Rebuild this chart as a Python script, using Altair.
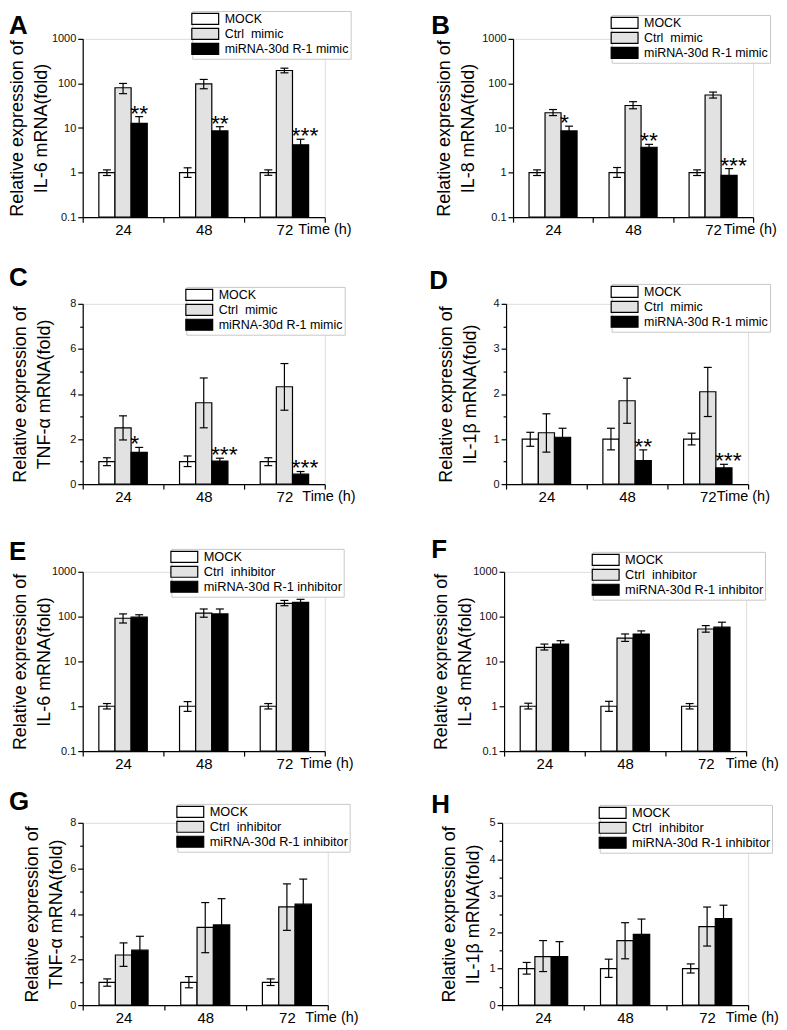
import altair as alt
import pandas as pd

FONT = "Liberation Sans"
TIMES = ["24", "48", "72"]
MIMIC = ["MOCK", "Ctrl\u00a0 mimic", "miRNA-30d R-1 mimic"]
INHIB = ["MOCK", "Ctrl\u00a0 inhibitor", "miRNA-30d R-1 inhibitor"]
FILLS = ["#ffffff", "#e2e2e2", "#000000"]
LOG_TICKS = [0.1, 1, 10, 100, 1000]
TICKS_0_8 = [0, 1, 2, 3, 4, 5, 6, 7, 8]
TICKS_0_4 = [0, 0.5, 1, 1.5, 2, 2.5, 3, 3.5, 4]
TICKS_0_5 = [0, 0.5, 1, 1.5, 2, 2.5, 3, 3.5, 4, 4.5, 5]

# ---- A: IL-6, mimic (log) ----
A_mock = [1, 1, 1]
A_mock_lo = [0.86, 0.78, 0.87]
A_mock_hi = [1.15, 1.28, 1.15]
A_ctrl = [80, 98, 195]
A_ctrl_lo = [59, 76, 173]
A_ctrl_hi = [100, 123, 220]
A_mir = [12.7, 8.6, 4.2]
A_mir_lo = [9.5, 6.8, 3.3]
A_mir_hi = [18, 10.7, 5.6]
A_stars = ["**", "**", "***"]

# ---- B: IL-8, mimic (log) ----
B_mock = [1, 1, 1]
B_mock_lo = [0.86, 0.78, 0.86]
B_mock_hi = [1.15, 1.3, 1.15]
B_ctrl = [22, 32, 55]
B_ctrl_lo = [19, 27, 47]
B_ctrl_hi = [26, 39, 64]
B_mir = [8.6, 3.7, 0.87]
B_mir_lo = [6.5, 3.2, 0.6]
B_mir_hi = [11, 4.3, 1.23]
B_stars = ["\u00a0*", "**", "***"]

# ---- C: TNF-a, mimic ----
C_mock = [1, 1, 1]
C_mock_lo = [0.82, 0.78, 0.82]
C_mock_hi = [1.17, 1.25, 1.17]
C_ctrl = [2.50, 3.61, 4.32]
C_ctrl_lo = [1.96, 2.50, 3.28]
C_ctrl_hi = [3.03, 4.71, 5.35]
C_mir = [1.41, 1.02, 0.44]
C_mir_lo = [1.19, 0.89, 0.32]
C_mir_hi = [1.63, 1.15, 0.56]
C_stars = ["\u00a0*", "***", "***"]

# ---- D: IL-1b, mimic ----
D_mock = [1, 1, 1]
D_mock_lo = [0.84, 0.76, 0.87]
D_mock_hi = [1.15, 1.24, 1.13]
D_ctrl = [1.14, 1.85, 2.05]
D_ctrl_lo = [0.71, 1.35, 1.50]
D_ctrl_hi = [1.56, 2.35, 2.59]
D_mir = [1.04, 0.52, 0.36]
D_mir_lo = [0.83, 0.28, 0.28]
D_mir_hi = [1.24, 0.76, 0.44]
D_stars = ["", "**", "***"]

# ---- E: IL-6, inhibitor (log) ----
E_mock = [1, 1, 1]
E_mock_lo = [0.87, 0.77, 0.87]
E_mock_hi = [1.15, 1.27, 1.15]
E_ctrl = [92, 120, 198]
E_ctrl_lo = [72, 97, 175]
E_ctrl_hi = [115, 148, 230]
E_mir = [97, 115, 208]
E_mir_lo = [84, 89, 180]
E_mir_hi = [110, 148, 243]

# ---- F: IL-8, inhibitor (log) ----
F_mock = [1, 1, 1]
F_mock_lo = [0.87, 0.77, 0.87]
F_mock_hi = [1.17, 1.29, 1.15]
F_ctrl = [20.6, 33, 53]
F_ctrl_lo = [18, 28, 45]
F_ctrl_hi = [24.4, 41, 63]
F_mir = [24.4, 41, 58]
F_mir_lo = [21, 35, 45]
F_mir_hi = [29, 48, 75]

# ---- G: TNF-a, inhibitor ----
G_mock = [1, 1, 1]
G_mock_lo = [0.83, 0.76, 0.86]
G_mock_hi = [1.15, 1.25, 1.15]
G_ctrl = [2.20, 3.41, 4.31]
G_ctrl_lo = [1.70, 2.30, 3.28]
G_ctrl_hi = [2.73, 4.50, 5.32]
G_mir = [2.41, 3.52, 4.43]
G_mir_lo = [1.8, 2.4, 3.3]
G_mir_hi = [3.02, 4.67, 5.53]

# ---- H: IL-1b, inhibitor ----
H_mock = [1, 1, 1]
H_mock_lo = [0.85, 0.76, 0.88]
H_mock_hi = [1.17, 1.26, 1.13]
H_ctrl = [1.33, 1.77, 2.15]
H_ctrl_lo = [0.92, 1.27, 1.62]
H_ctrl_hi = [1.77, 2.26, 2.69]
H_mir = [1.33, 1.94, 2.37]
H_mir_lo = [0.92, 1.52, 2.0]
H_mir_hi = [1.74, 2.36, 2.74]

NO_STARS = ["", "", ""]

LEGEND_SYMBOL = "M-2.45,-1H2.45V1H-2.45Z"


def panel(letter, groups, series, stars, log, ydom, yticks, major, ylabel,
          w, h, lx, ly, lfs, tdx, tdy, ytx, ttx):
    rows = []
    for gi, g in enumerate(groups):
        vals, lo, hi = series[gi]
        for ti, t in enumerate(TIMES):
            rows.append(dict(time=t, group=g, value=vals[ti], lo=lo[ti], hi=hi[ti],
                             star=(stars[ti] if gi == 2 else ""), base=ydom[0]))
    df = pd.DataFrame(rows)

    if log:
        yscale = alt.Scale(type="log", domain=ydom)
        tick_size = 5
        label_expr = "datum.label"
    else:
        yscale = alt.Scale(domain=ydom, nice=False, zero=True)
        test = f"datum.value % {major} == 0"
        tick_size = {"condition": {"test": test, "value": 5}, "value": 3}
        label_expr = f"{test} ? datum.label : ''"

    yaxis = alt.Axis(values=yticks, format="~g", labelExpr=label_expr, grid=False,
                     tickSize=tick_size, tickWidth=1.2,
                     tickColor="black", domainColor="black", domainWidth=1.2,
                     labelFont=FONT, labelFontSize=11, labelColor="#111111", labelPadding=2,
                     title=["Relative expression of", ylabel], titleFont=FONT,
                     titleFontSize=18, titleFontWeight="normal", titleColor="black",
                     titleX=ytx, titleLineHeight=24, titleBaseline="bottom")
    xaxis = alt.Axis(tickBand="extent", labelAngle=0, labelFont=FONT, labelFontSize=15,
                     labelColor="black", labelPadding=0, tickSize=5, tickWidth=1.2,
                     tickColor="black", domainColor="black", domainWidth=1.2, grid=False,
                     title="Time (h)", titleFont=FONT, titleFontSize=14.5,
                     titleFontWeight="normal", titleColor="black", titleX=ttx, titleY=5,
                     titleAlign="left", titleBaseline="top")

    x = alt.X("time:N", sort=TIMES, scale=alt.Scale(paddingInner=0, paddingOuter=0), axis=xaxis)
    xo = alt.XOffset("group:N", sort=groups, scale=alt.Scale(paddingInner=0, paddingOuter=1.0))

    def Y(field):
        return alt.Y(field, type="quantitative", scale=yscale, axis=yaxis)

    base = alt.Chart(df)
    bars = base.mark_bar(stroke="black", strokeWidth=1.2).encode(
        x=x, xOffset=xo, y=Y("value"), y2="base:Q",
        fill=alt.Fill("group:N", sort=groups,
                      scale=alt.Scale(domain=groups, range=FILLS),
                      legend=alt.Legend(title=None, orient="none", legendX=lx, legendY=ly,
                                        direction="vertical", symbolType=LEGEND_SYMBOL,
                                        symbolSize=121, symbolStrokeColor="black",
                                        symbolStrokeWidth=1.2, symbolOffset=5, labelOffset=13,
                                        labelFont=FONT, labelFontSize=lfs, labelColor="black",
                                        labelLimit=300, rowPadding=-2, padding=1.5,
                                        strokeColor="#c8c8c8", fillColor="white",
                                        symbolOpacity=1)))
    err = base.mark_rule(color="black", strokeWidth=1.2).encode(
        x=x, xOffset=xo, y=Y("lo"), y2="hi:Q")
    cap_hi = base.mark_tick(color="black", thickness=1.2, size=8, opacity=1).encode(
        x=x, xOffset=xo, y=Y("hi"))
    cap_lo = base.mark_tick(color="black", thickness=1.2, size=8, opacity=1).encode(
        x=x, xOffset=xo, y=Y("lo"))
    txt = base.mark_text(align="left", baseline="alphabetic", dx=-9, dy=4, fontSize=23,
                         font=FONT, color="black").encode(
        x=x, xOffset=xo, y=Y("hi"), text="star:N")

    return alt.layer(bars, err, cap_hi, cap_lo, txt).properties(
        width=w, height=h,
        title=alt.TitleParams(text=letter, anchor="start", frame="group", dx=tdx, dy=tdy,
                              offset=0, font=FONT, fontSize=26, fontWeight="bold",
                              color="black", baseline="alphabetic"))


pA = panel("A", MIMIC, [(A_mock, A_mock_lo, A_mock_hi), (A_ctrl, A_ctrl_lo, A_ctrl_hi),
                        (A_mir, A_mir_lo, A_mir_hi)], A_stars, True, [0.1, 1000], LOG_TICKS, 1,
           "IL-6 mRNA(fold)", 243, 179, 110, -28, 12.5, -74, 50, -56, 216)
pB = panel("B", MIMIC, [(B_mock, B_mock_lo, B_mock_hi), (B_ctrl, B_ctrl_lo, B_ctrl_hi),
                        (B_mir, B_mir_lo, B_mir_hi)], B_stars, True, [0.1, 1000], LOG_TICKS, 1,
           "IL-8 mRNA(fold)", 241, 179, 99, -24, 12.5, -82, 46, -60, 211)
pC = panel("C", MIMIC, [(C_mock, C_mock_lo, C_mock_hi), (C_ctrl, C_ctrl_lo, C_ctrl_hi),
                        (C_mir, C_mir_lo, C_mir_hi)], C_stars, False, [0, 8], TICKS_0_8, 2,
           "TNF-\u03b1 mRNA(fold)", 243, 181, 104, -17, 12.5, -74, 26, -53, 220)
pD = panel("D", MIMIC, [(D_mock, D_mock_lo, D_mock_hi), (D_ctrl, D_ctrl_lo, D_ctrl_hi),
                        (D_mir, D_mir_lo, D_mir_hi)], D_stars, False, [0, 4], TICKS_0_4, 1,
           "IL-1\u03b2 mRNA(fold)", 243, 181, 106, -20, 12.5, -77, 32, -51, 211)
pE = panel("E", INHIB, [(E_mock, E_mock_lo, E_mock_hi), (E_ctrl, E_ctrl_lo, E_ctrl_hi),
                        (E_mir, E_mir_lo, E_mir_hi)], NO_STARS, True, [0.1, 1000], LOG_TICKS, 1,
           "IL-6 mRNA(fold)", 243, 180, 89, -23, 12.8, -74, 38, -53, 218)
pF = panel("F", INHIB, [(F_mock, F_mock_lo, F_mock_hi), (F_ctrl, F_ctrl_lo, F_ctrl_hi),
                        (F_mir, F_mir_lo, F_mir_hi)], NO_STARS, True, [0.1, 1000], LOG_TICKS, 1,
           "IL-8 mRNA(fold)", 243, 180, 89, -20, 12.8, -73, 33, -54, 222)
pG = panel("G", INHIB, [(G_mock, G_mock_lo, G_mock_hi), (G_ctrl, G_ctrl_lo, G_ctrl_hi),
                        (G_mir, G_mir_lo, G_mir_hi)], NO_STARS, False, [0, 8], TICKS_0_8, 2,
           "TNF-\u03b1 mRNA(fold)", 246, 183, 95, -19, 12.8, -74, 33, -41, 223)
pH = panel("H", INHIB, [(H_mock, H_mock_lo, H_mock_hi), (H_ctrl, H_ctrl_lo, H_ctrl_hi),
                        (H_mir, H_mir_lo, H_mir_hi)], NO_STARS, False, [0, 5], TICKS_0_5, 1,
           "IL-1\u03b2 mRNA(fold)", 247, 183, 98, -18, 12.8, -71, 35, -44, 224)


def indep(c):
    return c.resolve_scale(x="independent", y="independent", fill="independent",
                           xOffset="independent").resolve_legend(fill="independent") \
            .resolve_axis(x="independent", y="independent")


row1 = indep(alt.hconcat(pA, pB, spacing=189, bounds="flush"))
row2 = indep(alt.hconcat(pC, pD, spacing=182, bounds="flush"))
row3 = indep(alt.hconcat(pE, pF, spacing=180, bounds="flush"))
row4 = indep(alt.hconcat(pG, pH, spacing=175, bounds="flush"))

inner3 = indep(alt.vconcat(row3, row4, spacing=17))
inner2 = indep(alt.vconcat(row2, inner3, spacing=32))
chart = indep(alt.vconcat(row1, inner2, spacing=27)).properties(
    padding=0).configure_view(stroke=None).configure(background="white")

chart.save("out.html", embed_options={"renderer": "svg", "actions": False})
